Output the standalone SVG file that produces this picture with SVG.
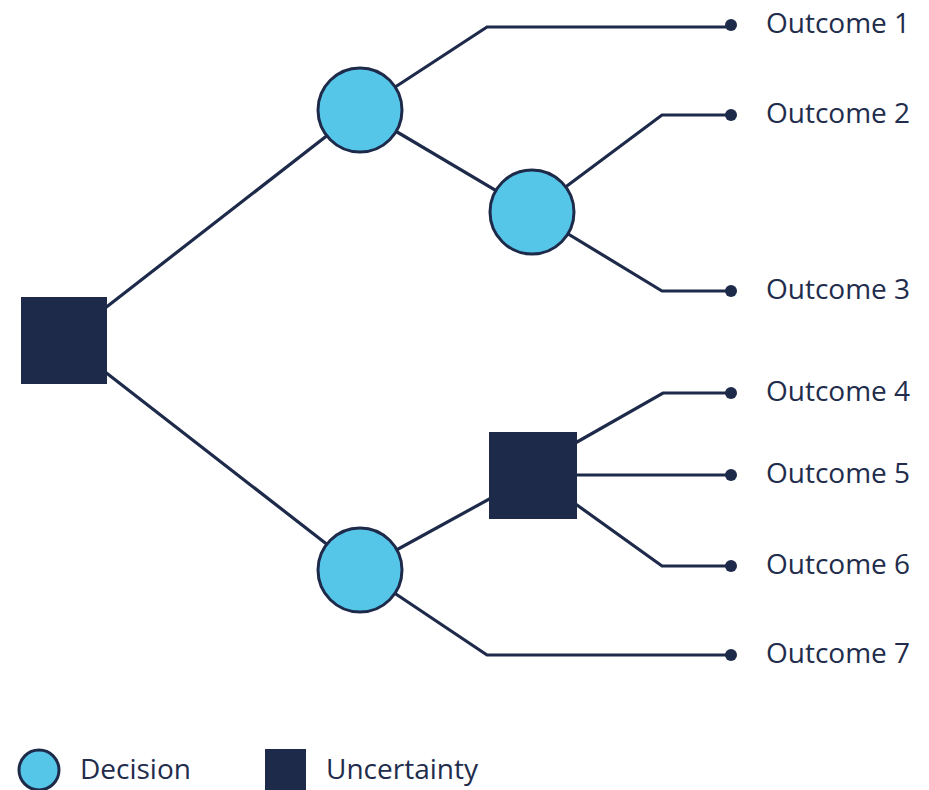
<svg xmlns="http://www.w3.org/2000/svg" width="929" height="790" viewBox="0 0 929 790">
<style>
.ln{fill:none;stroke:#1e2a4a;stroke-width:3.2;stroke-linejoin:miter}
.dec{fill:#56c6e8;stroke:#1e2a4a;stroke-width:3}
.unc{fill:#1e2a4a}
.dot{fill:#1e2a4a}
.lbl{font-family:"Open Sans","Liberation Sans",sans-serif;font-size:28px;font-weight:500;fill:#222c4c}
</style>
<rect width="929" height="790" fill="#ffffff"/>
<g id="connectors">
<line class="ln" x1="64" y1="340" x2="360" y2="110"/>
<line class="ln" x1="64" y1="340" x2="360" y2="570"/>
<polyline class="ln" points="360,110 487,27 731,27"/>
<line class="ln" x1="360" y1="110" x2="532" y2="212"/>
<polyline class="ln" points="532,212 662,115 731,115"/>
<polyline class="ln" points="532,212 662,291 731,291"/>
<line class="ln" x1="360" y1="570" x2="533" y2="475"/>
<polyline class="ln" points="360,570 487,655 731,655"/>
<polyline class="ln" points="570,446 663,393 731,393"/>
<line class="ln" x1="533" y1="475" x2="731" y2="475"/>
<polyline class="ln" points="570,500 662,566 731,566"/>
</g>
<g id="root"><rect class="unc" x="21" y="297" width="86" height="87"/></g>
<g id="decision1"><circle class="dec" cx="360" cy="110" r="42"/></g>
<g id="decision2"><circle class="dec" cx="532" cy="212" r="42"/></g>
<g id="decision3"><circle class="dec" cx="360" cy="570" r="42"/></g>
<g id="uncertainty2"><rect class="unc" x="489" y="432" width="88" height="87"/></g>
<g id="outcome1"><circle class="dot" cx="731" cy="25" r="6"/><text class="lbl" x="766" y="33">Outcome 1</text></g>
<g id="outcome2"><circle class="dot" cx="731" cy="115" r="6"/><text class="lbl" x="766" y="123">Outcome 2</text></g>
<g id="outcome3"><circle class="dot" cx="731" cy="291" r="6"/><text class="lbl" x="766" y="299">Outcome 3</text></g>
<g id="outcome4"><circle class="dot" cx="731" cy="393" r="6"/><text class="lbl" x="766" y="401">Outcome 4</text></g>
<g id="outcome5"><circle class="dot" cx="731" cy="475" r="6"/><text class="lbl" x="766" y="483">Outcome 5</text></g>
<g id="outcome6"><circle class="dot" cx="731" cy="566" r="6"/><text class="lbl" x="766" y="574">Outcome 6</text></g>
<g id="outcome7"><circle class="dot" cx="731" cy="655" r="6"/><text class="lbl" x="766" y="663">Outcome 7</text></g>
<g id="legend">
<circle class="dec" cx="39" cy="770" r="20"/>
<text class="lbl" x="80" y="779">Decision</text>
<rect class="unc" x="265" y="749" width="41" height="41"/>
<text class="lbl" x="326" y="779">Uncertainty</text>
</g>
</svg>
